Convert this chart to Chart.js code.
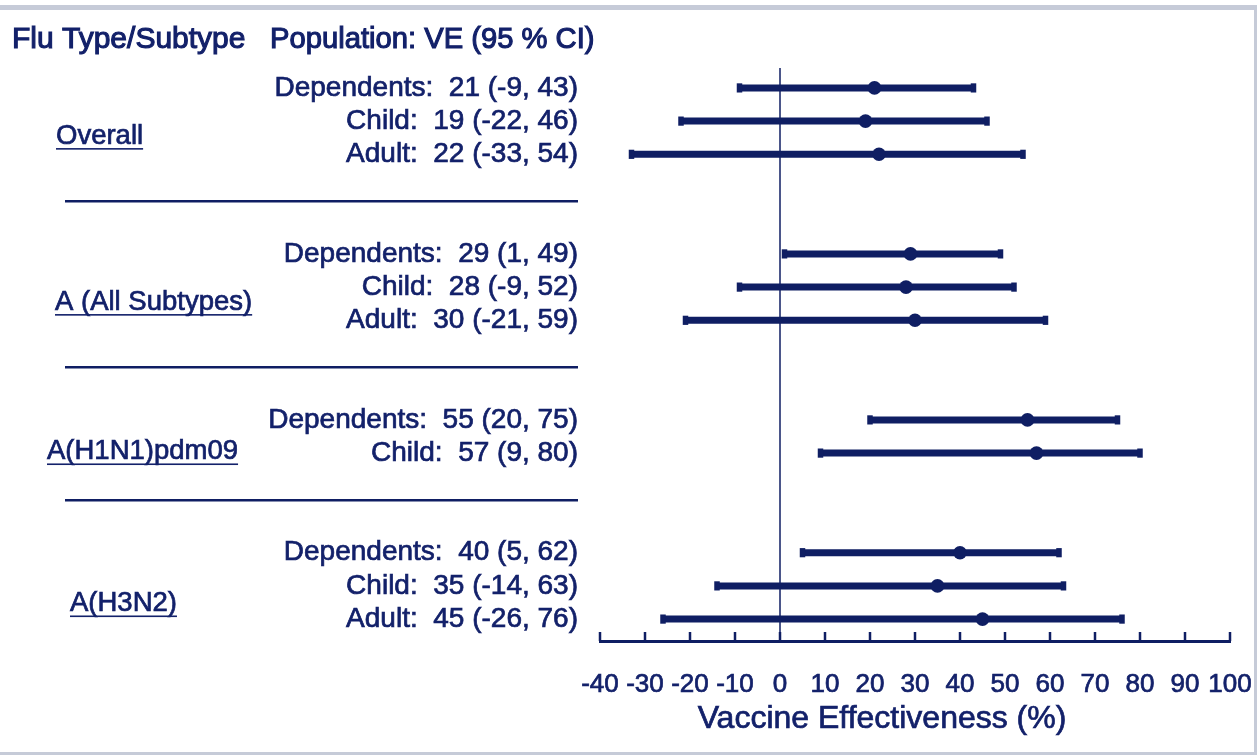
<!DOCTYPE html>
<html><head><meta charset="utf-8">
<script src="https://cdn.jsdelivr.net/npm/chart.js@4.4.1/dist/chart.umd.min.js"></script>
<style>html,body{margin:0;padding:0;background:#fff;overflow:hidden}#wrap{position:relative;width:1257px;height:755px}</style>
</head><body><div id="wrap"><canvas id="c" width="1257" height="755"></canvas></div>
<script>
// ---- data ----
const groups = ['Overall', 'A (All Subtypes)', 'A(H1N1)pdm09', 'A(H3N2)'];
const rowGroup = [0, 0, 0, 1, 1, 1, 2, 2, 3, 3, 3];
const populations = ['Dependents', 'Child', 'Adult', 'Dependents', 'Child', 'Adult', 'Dependents', 'Child', 'Dependents', 'Child', 'Adult'];
const ve = [21, 19, 22, 29, 28, 30, 55, 57, 40, 35, 45];
const ciLow = [-9, -22, -33, 1, -9, -21, 20, 9, 5, -14, -26];
const ciHigh = [43, 46, 54, 49, 52, 59, 75, 80, 62, 63, 76];
const xTicks = [-40, -30, -20, -10, 0, 10, 20, 30, 40, 50, 60, 70, 80, 90, 100];
const headerLeft = 'Flu Type/Subtype';
const headerRight = 'Population: VE (95 % CI)';
const axisTitle = 'Vaccine Effectiveness (%)';

// ---- layout of rows (slot index per row, gap of 2 slots between groups) ----
const NAVY = '#0f1e63';
const TEXT = '#13216a';
const FONT = "'Liberation Sans', Arial, sans-serif";
const rowSlot = [];
const groupSlots = groups.map(() => []);
{
  let slot = 0, prev = rowGroup[0];
  rowGroup.forEach((g, i) => {
    if (g !== prev) { slot += 2; prev = g; }
    rowSlot.push(slot); groupSlots[g].push(slot); slot++;
  });
}

const whiskers = ve.map((v, i) => ({
  type: 'line',
  data: [{x: ciLow[i], y: rowSlot[i]}, {x: ciHigh[i], y: rowSlot[i]}],
  borderColor: NAVY, borderWidth: 7, borderCapStyle: 'butt',
  pointStyle: 'line', pointRotation: 90, pointRadius: 4.6, pointBorderWidth: 5.5,
  pointBorderColor: NAVY, pointBackgroundColor: NAVY, order: 2
}));
const points = {
  type: 'scatter',
  data: ve.map((v, i) => ({x: v, y: rowSlot[i]})),
  pointRadius: 6.8, pointBackgroundColor: NAVY, pointBorderColor: NAVY, pointBorderWidth: 0, order: 1
};

function txt(ctx, s, x, y) {
  ctx.fillText(s, x, y);
  ctx.strokeText(s, x, y);
}

const deco = {
  id: 'deco',
  beforeDraw(chart) {
    const ctx = chart.ctx, y = chart.scales.y;
    ctx.save();
    // frame
    ctx.fillStyle = '#c6cbd8';
    ctx.fillRect(0, 5, 1257, 5);
    ctx.fillRect(1254, 5, 3, 750);
    ctx.fillRect(0, 752, 1257, 3);
    ctx.fillStyle = TEXT;
    ctx.strokeStyle = TEXT;
    ctx.textBaseline = 'middle';
    // headers
    ctx.textAlign = 'left';
    ctx.lineWidth = 1.1;
    ctx.font = '30px ' + FONT;
    txt(ctx, headerLeft, 12, 40);
    ctx.font = '29.2px ' + FONT;
    txt(ctx, headerRight, 270, 40);
    ctx.lineWidth = 0.7;
    // row labels
    ctx.textAlign = 'right';
    ctx.font = '28px ' + FONT;
    ve.forEach((v, i) => {
      txt(ctx, populations[i] + ':  ' + v + ' (' + ciLow[i] + ', ' + ciHigh[i] + ')', 578, y.getPixelForValue(rowSlot[i]));
    });
    // group labels underlined
    ctx.textAlign = 'left';
    ctx.font = '27.5px ' + FONT;
    const gx = [56, 55, 47, 70];
    groups.forEach((g, gi) => {
      const s = groupSlots[gi];
      const mid = (s[0] + s[s.length - 1]) / 2 + 0.45 + (gi === 3 ? 0.08 : 0);
      const py = y.getPixelForValue(mid);
      txt(ctx, g, gx[gi], py);
      const w = ctx.measureText(g).width;
      ctx.fillRect(gx[gi], py + 12, w, 1.6);
    });
    // separators
    ctx.fillStyle = NAVY;
    for (let gi = 1; gi < groups.length; gi++) {
      const a = groupSlots[gi - 1], b = groupSlots[gi];
      const py = y.getPixelForValue((a[a.length - 1] + b[0]) / 2 - 0.08);
      ctx.fillRect(65, Math.round(py) - 1, 513, 2.5);
    }
    // axis title
    ctx.fillStyle = TEXT;
    ctx.textAlign = 'center';
    ctx.font = '32px ' + FONT;
    txt(ctx, axisTitle, 882, 719);
    ctx.restore();
  },
  beforeDatasetsDraw(chart) {
    const ctx = chart.ctx, x = chart.scales.x, a = chart.chartArea;
    ctx.save();
    ctx.strokeStyle = NAVY; ctx.lineWidth = 1.5;
    const px = x.getPixelForValue(0);
    ctx.beginPath(); ctx.moveTo(px, a.top); ctx.lineTo(px, a.bottom); ctx.stroke();
    ctx.restore();
  },
  afterDraw(chart) {
    const ctx = chart.ctx, x = chart.scales.x, a = chart.chartArea;
    ctx.save();
    ctx.strokeStyle = NAVY; ctx.lineWidth = 2.5;
    xTicks.forEach(t => {
      const px = x.getPixelForValue(t);
      ctx.beginPath(); ctx.moveTo(px, a.bottom - 9); ctx.lineTo(px, a.bottom); ctx.stroke();
    });
    ctx.restore();
  }
};

new Chart(document.getElementById('c'), {
  type: 'scatter',
  data: { datasets: [...whiskers, points] },
  options: {
    responsive: false, animation: false, devicePixelRatio: 1,
    layout: { padding: { left: 600, right: 27, top: 68, bottom: 0 } },
    plugins: { legend: { display: false }, tooltip: { enabled: false } },
    scales: {
      x: {
        type: 'linear', min: -40, max: 100,
        afterBuildTicks: s => { s.ticks = xTicks.map(v => ({value: v})); },
        afterFit: s => { s.height = 114; s.paddingRight = 0; s.paddingLeft = 0; },
        grid: { display: false, drawTicks: false },
        border: { display: true, color: NAVY, width: 3 },
        ticks: { autoSkip: false, maxRotation: 0, padding: 28, color: TEXT, textStrokeColor: TEXT, textStrokeWidth: 0.7, font: { family: FONT, size: 26 } }
      },
      y: {
        type: 'linear', display: false, reverse: true, min: -0.6, max: 16.66
      }
    }
  },
  plugins: [deco]
});
</script>
</body></html>
